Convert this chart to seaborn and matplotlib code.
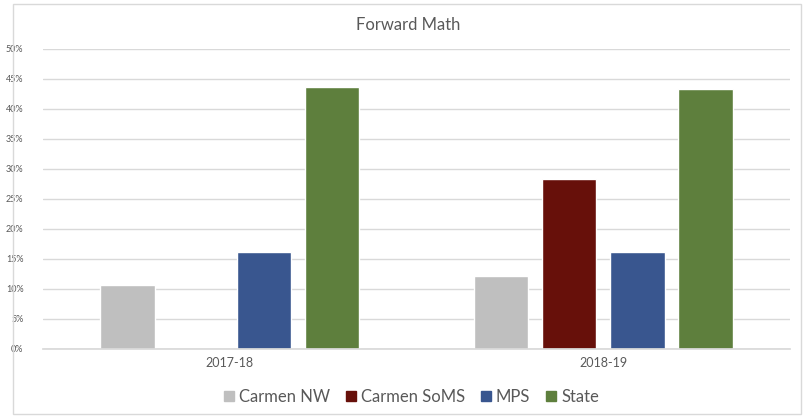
import matplotlib
matplotlib.use("Agg")
import matplotlib.pyplot as plt
import seaborn as sns
import pandas as pd
from matplotlib.lines import Line2D
from matplotlib.patches import Rectangle
from matplotlib.ticker import FuncFormatter, MultipleLocator

years = ["2017-18", "2018-19"]
groups = ["Carmen NW", "Carmen SoMS", "MPS", "State"]
carmen_nw = [0.107, 0.122]
carmen_soms = [float("nan"), 0.284]
mps = [0.162, 0.162]
state = [0.437, 0.433]
colors = ["#BFBFBF", "#67100A", "#39568F", "#5E7F3D"]

rows = []
for g, vals in zip(groups, [carmen_nw, carmen_soms, mps, state]):
    for y, v in zip(years, vals):
        rows.append({"year": y, "group": g, "value": v})
df = pd.DataFrame(rows)

sns.set_theme(style="white")
plt.rcParams["font.family"] = ["Lato", "DejaVu Sans"]

fig = plt.figure(figsize=(8.07, 4.17), dpi=100)
ax = fig.add_axes([43 / 807, 1 - 349 / 417, (790 - 43) / 807, 300 / 417])

sns.barplot(data=df, x="year", y="value", hue="group", hue_order=groups,
            palette=colors, width=0.73, gap=0.2, ax=ax, legend=False,
            saturation=1, err_kws={"linewidth": 0})

ax.set_ylim(0, 0.5)
ax.yaxis.set_major_locator(MultipleLocator(0.05))
ax.yaxis.set_major_formatter(FuncFormatter(lambda v, p: f"{v*100:.0f}%"))
ax.grid(axis="y", color="#D9D9D9", linewidth=1)
ax.set_axisbelow(True)
for s in ["top", "right", "left"]:
    ax.spines[s].set_visible(False)
ax.spines["bottom"].set_color("#D9D9D9")
ax.set_xlabel("")
ax.set_ylabel("")
ax.tick_params(axis="y", labelsize=6.5, colors="#595959", length=0, pad=14)
ax.tick_params(axis="x", labelsize=9, colors="#595959", length=0, pad=6)
for lbl in ax.get_yticklabels():
    lbl.set_horizontalalignment("right")

fig.text(408 / 807, 1 - 25 / 417, "Forward Math", ha="center", va="center",
         fontsize=12, color="#595959")

handles = [Line2D([], [], marker="s", linestyle="", markersize=7,
                  markerfacecolor=c, markeredgecolor=c) for c in colors]
fig.legend(handles, groups, loc="center", bbox_to_anchor=(411 / 807, 1 - 397 / 417),
           ncol=4, frameon=False, fontsize=12, handlelength=0.7,
           handletextpad=0.25, columnspacing=0.9, labelcolor="#595959")

fig.patches.append(Rectangle((13 / 807, 3 / 417), 788 / 807, 410 / 417,
                             transform=fig.transFigure, fill=False,
                             edgecolor="#D9D9D9", linewidth=1))

fig.savefig("out.png", dpi=100, facecolor="white")
